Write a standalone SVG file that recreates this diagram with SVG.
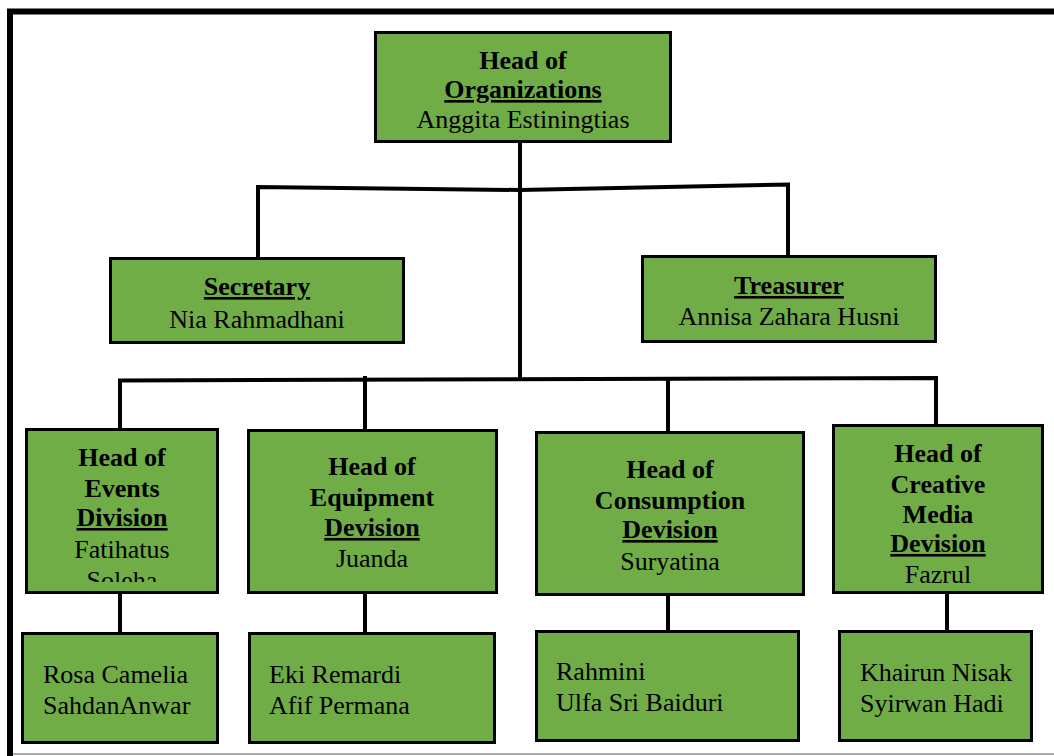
<svg xmlns="http://www.w3.org/2000/svg" width="1054" height="756" viewBox="0 0 1054 756">
<style>
.box{fill:#70AD47;stroke:#000;stroke-width:3}
.t{font-family:"Liberation Serif","Times New Roman",serif;font-size:26px;fill:#000}
.b{font-weight:bold}
.c{text-anchor:middle}
.u{text-decoration:underline}
.conn{fill:none;stroke:#000;stroke-width:4}
</style>
<defs>
<clipPath id="clipEv"><rect x="20" y="425" width="200" height="157"/></clipPath>
</defs>
<rect x="0" y="0" width="1054" height="756" fill="#fff"/>
<g id="frame">
<path d="M10,756 V11.5 H1054" fill="none" stroke="#000" stroke-width="6"/>
<line x1="13" y1="754" x2="1054" y2="754" stroke="#aaa" stroke-width="2"/>
</g>
<g id="connectors" class="conn">
<path d="M520,142 V188"/>
<path d="M258,257 V187 L520,190 L788,184.5 V256"/>
<path d="M520,192 V380"/>
<path d="M120,430 V380.5 L936,378 V425"/>
<path d="M365,376 V430"/>
<path d="M668,380 V432"/>
<path d="M120,593 V633"/>
<path d="M365,592 V633"/>
<path d="M668,594 V631"/>
<path d="M947,593 V631"/>
</g>
<g id="head">
<rect class="box" x="375.5" y="32.5" width="295" height="109"/>
<text class="t b c" x="523" y="69">Head of</text>
<text class="t b c u" x="523" y="98">Organizations</text>
<text class="t c" x="523" y="128">Anggita Estiningtias</text>
</g>
<g id="secretary">
<rect class="box" x="110.5" y="258.5" width="293" height="84"/>
<text class="t b c u" x="257" y="295">Secretary</text>
<text class="t c" x="257" y="328">Nia Rahmadhani</text>
</g>
<g id="treasurer">
<rect class="box" x="642.5" y="256.5" width="293" height="85"/>
<text class="t b c u" x="789" y="294">Treasurer</text>
<text class="t c" x="789" y="325">Annisa Zahara Husni</text>
</g>
<g id="events">
<rect class="box" x="26.5" y="429.5" width="191" height="163"/>
<g clip-path="url(#clipEv)">
<text class="t b c" x="122" y="466">Head of</text>
<text class="t b c" x="122" y="497">Events</text>
<text class="t b c u" x="122" y="526">Division</text>
<text class="t c" x="122" y="558">Fatihatus</text>
<text class="t c" x="122" y="589">Soleha</text>
</g>
</g>
<g id="equipment">
<rect class="box" x="248.5" y="430.5" width="248" height="162"/>
<text class="t b c" x="372" y="475">Head of</text>
<text class="t b c" x="372" y="506">Equipment</text>
<text class="t b c u" x="372" y="536">Devision</text>
<text class="t c" x="372" y="567">Juanda</text>
</g>
<g id="consumption">
<rect class="box" x="536.5" y="432.5" width="267" height="162"/>
<text class="t b c" x="670" y="478">Head of</text>
<text class="t b c" x="670" y="509">Consumption</text>
<text class="t b c u" x="670" y="538">Devision</text>
<text class="t c" x="670" y="570">Suryatina</text>
</g>
<g id="creative">
<rect class="box" x="833.5" y="425.5" width="209" height="167"/>
<text class="t b c" x="938" y="462">Head of</text>
<text class="t b c" x="938" y="493">Creative</text>
<text class="t b c" x="938" y="523">Media</text>
<text class="t b c u" x="938" y="552">Devision</text>
<text class="t c" x="938" y="583">Fazrul</text>
</g>
<g id="events-members">
<rect class="box" x="22.5" y="633.5" width="195" height="109"/>
<text class="t" x="43" y="683">Rosa Camelia</text>
<text class="t" x="43" y="714">SahdanAnwar</text>
</g>
<g id="equipment-members">
<rect class="box" x="249.5" y="633.5" width="245" height="109"/>
<text class="t" x="269" y="683">Eki Remardi</text>
<text class="t" x="269" y="714">Afif Permana</text>
</g>
<g id="consumption-members">
<rect class="box" x="536.5" y="631.5" width="262" height="109"/>
<text class="t" x="556" y="680">Rahmini</text>
<text class="t" x="556" y="711">Ulfa Sri Baiduri</text>
</g>
<g id="creative-members">
<rect class="box" x="839.5" y="631.5" width="192" height="109"/>
<text class="t" x="860" y="681">Khairun Nisak</text>
<text class="t" x="860" y="712">Syirwan Hadi</text>
</g>
</svg>
